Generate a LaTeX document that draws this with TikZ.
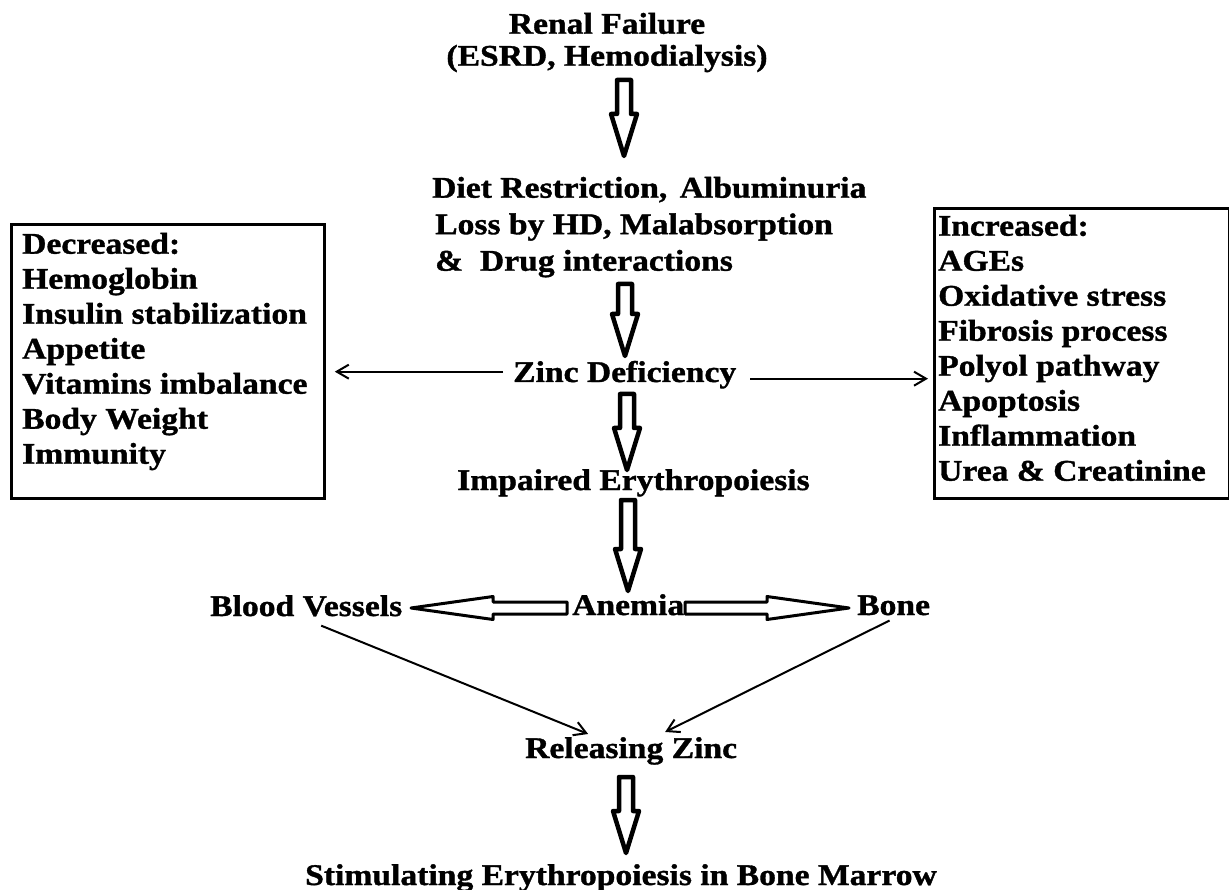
\documentclass[tikz,border=0pt]{standalone}
\usepackage{fontspec}
\setmainfont{Liberation Serif}[FakeStretch=1.12,FakeBold=1.2]
\usetikzlibrary{arrows.meta,calc}
\begin{document}
\begin{tikzpicture}[x=1pt,y=-1pt,
  lbl/.style={font=\fontsize{30}{35}\selectfont\bfseries, inner sep=0pt, anchor=base west},
  listtxt/.style={font=\fontsize{30}{35}\selectfont\bfseries, inner sep=0pt, align=left, anchor=north west},
  boxframe/.style={draw, line width=2.8pt, inner sep=0pt, anchor=north west},
  thinarrow/.style={line width=2pt, -{Straight Barb[length=12pt,width=14pt,line width=2pt]}},
  blockdown/.style={draw, line width=4.5pt, line join=round, to path={let \p1=(\tikztostart), \p2=(\tikztotarget) in
    (\x1-7pt,\y1) -- (\x1-7pt,\y2+42pt) -- (\x1-13pt,\y2+42pt) -- (\x1,\y2) -- (\x1+13pt,\y2+42pt) -- (\x1+7pt,\y2+42pt) -- (\x1+7pt,\y1) -- cycle}},
  blockleft/.style={draw, line width=3pt, line join=round, to path={let \p1=(\tikztostart), \p2=(\tikztotarget) in
    (\x1,\y1+6pt) -- (\x2+82pt,\y1+6pt) -- (\x2+82pt,\y1+11.5pt) -- (\x2,\y1) -- (\x2+82pt,\y1-11.5pt) -- (\x2+82pt,\y1-6pt) -- (\x1,\y1-6pt) -- cycle}},
  blockright/.style={draw, line width=3pt, line join=round, to path={let \p1=(\tikztostart), \p2=(\tikztotarget) in
    (\x1,\y1+6pt) -- (\x2-82pt,\y1+6pt) -- (\x2-82pt,\y1+11.5pt) -- (\x2,\y1) -- (\x2-82pt,\y1-11.5pt) -- (\x2-82pt,\y1-6pt) -- (\x1,\y1-6pt) -- cycle}}
]
\fill[white] (0,0) rectangle (1229,890);
\useasboundingbox (0,0) rectangle (1229,890);

% main flow labels
\node[listtxt, align=center, anchor=north, font=\fontsize{30}{32}\selectfont\bfseries] (title) at (607,12.7) {Renal Failure\\(ESRD, Hemodialysis)};
\node[listtxt, font=\fontsize{30}{36.5}\selectfont\bfseries] (diet) at (432,176.7) {Diet Restriction,\hspace{4pt} Albuminuria\\\hspace*{3pt}Loss by HD, Malabsorption\\\hspace*{3pt}\&\ \ Drug interactions};
\node[lbl] (zinc) at (513,382) {Zinc Deficiency};
\node[lbl] (imp) at (457,490) {Impaired Erythropoiesis};
\node[lbl] (anem) at (572,615) {Anemia};
\node[lbl] (bv) at (210,616) {Blood Vessels};
\node[lbl] (bone) at (857,615) {Bone};
\node[lbl] (rz) at (525,758) {Releasing Zinc};
\node[lbl] (stim) at (305,885) {Stimulating Erythropoiesis in Bone Marrow};

% side boxes
\node[boxframe, minimum width=313pt, minimum height=274pt] (decbox) at (10,223) {};
\node[listtxt] (dectext) at (22,232.7) {Decreased:\\Hemoglobin\\Insulin stabilization\\Appetite\\Vitamins imbalance\\Body Weight\\Immunity};
\node[boxframe, minimum width=295pt, minimum height=290pt] (incbox) at (933,207) {};
\node[listtxt] (inctext) at (938,214.7) {Increased:\\AGEs\\Oxidative stress\\Fibrosis process\\Polyol pathway\\Apoptosis\\Inflammation\\Urea \& Creatinine};

% block arrows (vertical)
\coordinate (a1s) at (624,80);  \coordinate (a1e) at (624,156);
\coordinate (a2s) at (625,284); \coordinate (a2e) at (625,356);
\coordinate (a3s) at (627,394); \coordinate (a3e) at (627,470);
\coordinate (a4s) at (628,500); \coordinate (a4e) at (628,591);
\coordinate (a5s) at (626,777); \coordinate (a5e) at (626,853);
\draw[blockdown] (a1s) to (a1e);
\draw[blockdown] (a2s) to (a2e);
\draw[blockdown] (a3s) to (a3e);
\draw[blockdown] (a4s) to (a4e);
\draw[blockdown] (a5s) to (a5e);

% block arrows (horizontal)
\coordinate (hls) at (567,608); \coordinate (hle) at (411,608);
\coordinate (hrs) at (685,608); \coordinate (hre) at (849,608);
\draw[blockleft] (hls) to (hle);
\draw[blockright] (hrs) to (hre);

% thin arrows from zinc deficiency
\coordinate (zl) at ([xshift=-10pt,yshift=3pt]zinc.west);
\coordinate (zr) at ([xshift=14pt,yshift=-4pt]zinc.east);
\draw[thinarrow, shorten >=9pt] (zl) -- (zl -| decbox.east);
\draw[thinarrow, shorten >=5pt] (zr) -- (zr -| incbox.west);

% thin arrows to releasing zinc
\coordinate (bvs) at ([xshift=15pt,yshift=-9pt]bv.south);
\coordinate (bos) at ([xshift=-4pt,yshift=-5pt]bone.south);
\coordinate (rzl) at ([xshift=-43pt,yshift=3pt]rz.north);
\coordinate (rzr) at ([xshift=34pt,yshift=5pt]rz.north);
\draw[thinarrow] (bvs) -- (rzl);
\draw[thinarrow] (bos) -- (rzr);
\end{tikzpicture}
\end{document}
